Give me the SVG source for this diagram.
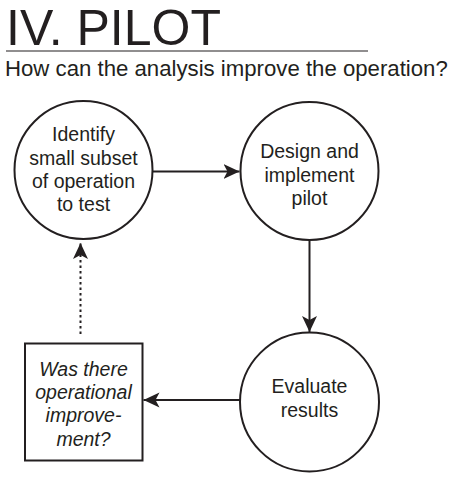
<svg xmlns="http://www.w3.org/2000/svg" width="450" height="480" viewBox="0 0 450 480">
<style>
text{font-family:"Liberation Sans",Arial,sans-serif;fill:#231f20}
.t{font-size:19.5px;text-anchor:middle}
.i{font-style:italic}
.n{fill:#fff;stroke:#231f20;stroke-width:2}
.c{fill:none;stroke:#231f20;stroke-width:2}
</style>
<defs>
<marker id="ah" markerWidth="18" markerHeight="16" refX="16" refY="8" orient="auto" markerUnits="userSpaceOnUse">
<path d="M0,0.5 L16,8 L0,15.5 L4,8 Z" fill="#231f20"/>
</marker>
</defs>
<g id="title">
<text x="6" y="44.5" font-size="50">IV. PILOT</text>
<line x1="6" y1="51" x2="368" y2="51" stroke="#231f20" stroke-width="1.2"/>
<text x="5" y="76" font-size="22.2">How can the analysis improve the operation?</text>
</g>
<g id="connectors">
<line class="c" x1="153" y1="171.5" x2="239.5" y2="171.5" marker-end="url(#ah)"/>
<line class="c" x1="309.5" y1="241" x2="309.5" y2="332" marker-end="url(#ah)"/>
<line class="c" x1="240.5" y1="400" x2="143.5" y2="400" marker-end="url(#ah)"/>
<line class="c" x1="80.5" y1="334" x2="80.5" y2="243" stroke-dasharray="2.5 3" marker-end="url(#ah)"/>
</g>
<g id="n1">
<circle class="n" cx="83.5" cy="170" r="69"/>
<text class="t" x="83.5" y="141">Identify</text>
<text class="t" x="83.5" y="164.5">small subset</text>
<text class="t" x="83.5" y="188">of operation</text>
<text class="t" x="83.5" y="211.3">to test</text>
</g>
<g id="n2">
<circle class="n" cx="309.5" cy="171" r="69"/>
<text class="t" x="309.5" y="158.3">Design and</text>
<text class="t" x="309.5" y="181.6">implement</text>
<text class="t" x="309.5" y="205">pilot</text>
</g>
<g id="n3">
<circle class="n" cx="309.5" cy="402" r="69.5"/>
<text class="t" x="309.5" y="393.3">Evaluate</text>
<text class="t" x="309.5" y="416.7">results</text>
</g>
<g id="n4">
<rect class="n" x="25" y="343.5" width="117.5" height="117"/>
<text class="t i" x="83.5" y="375.7">Was there</text>
<text class="t i" x="83.5" y="399">operational</text>
<text class="t i" x="83.5" y="421.7">improve-</text>
<text class="t i" x="83.5" y="445.5">ment?</text>
</g>
</svg>
